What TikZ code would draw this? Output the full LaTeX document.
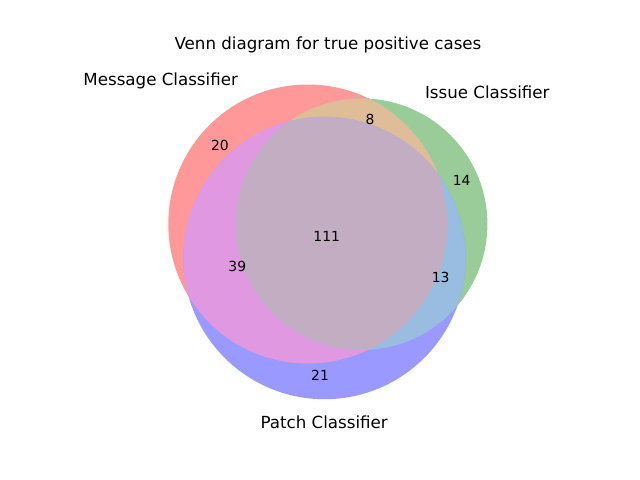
\documentclass[tikz,border=0pt]{standalone}
\usepackage{fontspec}
\setmainfont{DejaVu Sans}
\usepackage{tikz}
\usetikzlibrary{positioning,calc}
\usepackage{xcolor}
\definecolor{rOnly}{HTML}{FF9999}
\definecolor{gOnly}{HTML}{99CC99}
\definecolor{bOnly}{HTML}{9999FF}
\definecolor{rg}{HTML}{E0BD99}
\definecolor{rb}{HTML}{E099E0}
\definecolor{gb}{HTML}{99BDE0}
\definecolor{rgb}{HTML}{C2ADC2}
\definecolor{ink}{HTML}{000000}
\newcommand{\MsgC}{(307.8,224) circle (139.5)}
\newcommand{\IssC}{(361.7,224.2) circle (125.7)}
\newcommand{\PatC}{(324.5,258) circle (141.2)}

\begin{document}
\begin{tikzpicture}[x=0.72pt,y=-0.72pt, every node/.style={text=ink, inner sep=0pt},
  setlabel/.style={font=\fontsize{12}{14}\selectfont, anchor=base},
  count/.style={font=\fontsize{10}{12}\selectfont}]
\useasboundingbox (0,0) rectangle (640,480);
% ---- single sets
\fill[rOnly] \MsgC;
\fill[gOnly] \IssC;
\fill[bOnly] \PatC;
% ---- pairwise overlaps
\begin{scope} \clip \MsgC; \fill[rg] \IssC; \end{scope}
\begin{scope} \clip \MsgC; \fill[rb] \PatC; \end{scope}
\begin{scope} \clip \IssC; \fill[gb] \PatC; \end{scope}
% ---- all three
\begin{scope} \clip \MsgC; \clip \IssC; \fill[rgb] \PatC; \end{scope}
% ---- titles and set labels
\node[setlabel] (title) at (328,49) {Venn diagram for true positive cases};
\node[setlabel] (msg) at (160.7,85.5) {Message Classifier};
\node[setlabel] (iss) at (487.3,98.3) {Issue Classifier};
\node[setlabel] (pat) at (324.2,428.3) {Patch Classifier};
% ---- region counts
\node[count] (n100) at (220,145.7) {20};
\node[count] (n110) at (370,119.3) {8};
\node[count] (n010) at (461.7,180) {14};
\node[count] (n111) at (326.7,236) {111};
\node[count] (n101) at (237.3,266) {39};
\node[count] (n011) at (440.7,277.3) {13};
\node[count] (n001) at (320,375) {21};
\end{tikzpicture}
\end{document}
